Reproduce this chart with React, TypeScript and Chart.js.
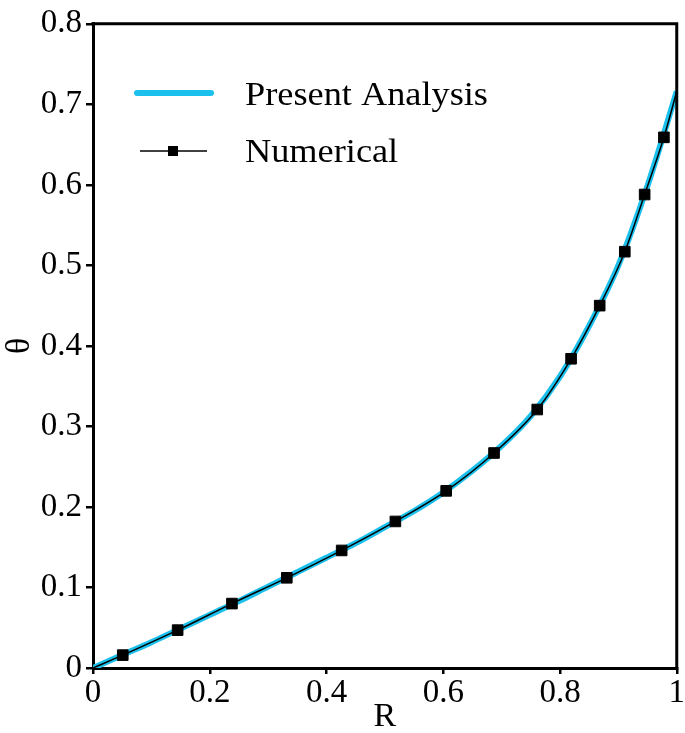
import React, { useEffect, useRef } from "react";
import { Chart, registerables } from "chart.js";

Chart.register(...registerables);

// Present Analysis curve
const curveR = [0, 0.05, 0.1, 0.15, 0.2, 0.25, 0.3, 0.35, 0.4, 0.45, 0.5, 0.55, 0.6, 0.65, 0.7, 0.75, 0.8, 0.85, 0.9, 0.95, 1.0];
const curveTheta = [0, 0.016, 0.032, 0.049, 0.066, 0.083, 0.101, 0.119, 0.137, 0.155, 0.175, 0.195, 0.218, 0.245, 0.276, 0.313, 0.362, 0.425, 0.5, 0.599, 0.716];

// Numerical markers
const numR = [0.051, 0.145, 0.238, 0.332, 0.426, 0.518, 0.605, 0.687, 0.761, 0.819, 0.868, 0.911, 0.945, 0.978];
const numTheta = [0.016, 0.047, 0.08, 0.112, 0.146, 0.182, 0.22, 0.267, 0.321, 0.384, 0.45, 0.517, 0.588, 0.659];

const legendLabels = ["Present Analysis", "Numerical"];
const xTitle = "R";
const yTitle = "θ";

const FONT = '"Liberation Serif", "Times New Roman", serif';
const CYAN = "#1cc0ec";

const framePlugin = {
  id: "frameAndLegend",
  afterDraw(chart: any) {
    const { ctx, chartArea } = chart;
    ctx.save();
    ctx.strokeStyle = "#000";
    ctx.lineWidth = 3;
    ctx.beginPath();
    ctx.moveTo(chartArea.left - 1.5, chartArea.top);
    ctx.lineTo(chartArea.right, chartArea.top);
    ctx.lineTo(chartArea.right, chartArea.bottom + 1.5);
    ctx.stroke();

    // legend
    ctx.lineCap = "round";
    ctx.strokeStyle = CYAN;
    ctx.lineWidth = 6;
    ctx.beginPath();
    ctx.moveTo(137, 93);
    ctx.lineTo(211, 93);
    ctx.stroke();

    ctx.lineCap = "butt";
    ctx.strokeStyle = "#000";
    ctx.lineWidth = 1.5;
    ctx.beginPath();
    ctx.moveTo(140, 151);
    ctx.lineTo(207, 151);
    ctx.stroke();
    ctx.fillStyle = "#000";
    ctx.fillRect(168, 146, 10, 10);

    ctx.font = `33px ${FONT}`;
    ctx.textBaseline = "alphabetic";
    ctx.textAlign = "left";
    ctx.save();
    ctx.translate(245, 105);
    ctx.scale(1.1, 1);
    ctx.fillText(legendLabels[0], 0, 0);
    ctx.restore();
    ctx.save();
    ctx.translate(245, 162);
    ctx.scale(1.1, 1);
    ctx.fillText(legendLabels[1], 0, 0);
    ctx.restore();
    ctx.restore();
  },
};

export default function App() {
  const ref = useRef<HTMLCanvasElement>(null);
  useEffect(() => {
    if (!ref.current) return;
    const curve = curveR.map((x, i) => ({ x, y: curveTheta[i] }));
    const nums = [{ x: 0, y: 0 }, ...numR.map((x, i) => ({ x, y: numTheta[i] })), { x: 1, y: curveTheta[curveTheta.length - 1] }];
    const radii = nums.map((_, i) => (i === 0 || i === nums.length - 1 ? 0 : 7.5));
    const chart = new Chart(ref.current, {
      type: "scatter",
      data: {
        datasets: [
          {
            label: legendLabels[1],
            data: nums,
            showLine: true,
            borderColor: "#000",
            borderWidth: 1.5,
            backgroundColor: "#000",
            pointStyle: "rect",
            pointRadius: radii,
            pointBorderWidth: 1,
            pointBorderColor: "#000",
            cubicInterpolationMode: "monotone",
            order: 0,
          },
          {
            label: legendLabels[0],
            data: curve,
            showLine: true,
            borderColor: CYAN,
            borderWidth: 6,
            pointRadius: 0,
            cubicInterpolationMode: "monotone",
            order: 1,
          },
        ],
      },
      options: {
        animation: false,
        responsive: true,
        maintainAspectRatio: false,
        layout: { padding: { top: 21, right: 7, left: 0, bottom: 0 } },
        plugins: { legend: { display: false }, tooltip: { enabled: false } },
        scales: {
          x: {
            type: "linear",
            min: 0,
            max: 1,
            ticks: {
              stepSize: 0.2,
              color: "#000",
              font: { family: FONT, size: 33 },
              padding: 0,
              maxRotation: 0,
              callback: (v: any) => (v === 0 ? "0" : v === 1 ? "1" : Number(v).toFixed(1)),
            },
            grid: { display: true, drawOnChartArea: false, tickLength: 6, color: "#000", lineWidth: 2.5 },
            border: { display: true, color: "#000", width: 3 },
            title: { display: true, text: xTitle, color: "#000", font: { family: FONT, size: 34 }, padding: { top: 0, bottom: -4 } },
            afterFit: (s: any) => { s.height = 65; },
          },
          y: {
            type: "linear",
            min: 0,
            max: 0.8,
            ticks: {
              stepSize: 0.1,
              color: "#000",
              font: { family: FONT, size: 33 },
              padding: 4,
              callback: (v: any) => (v === 0 ? "0" : Number(v).toFixed(1)),
            },
            grid: { display: true, drawOnChartArea: false, tickLength: 7, color: "#000", lineWidth: 2.5 },
            border: { display: true, color: "#000", width: 3 },
            title: { display: true, text: yTitle, color: "#000", font: { family: FONT, size: 34 }, padding: { top: 0, bottom: 0 } },
            afterFit: (s: any) => { s.width = 93; },
          },
        },
      },
      plugins: [framePlugin],
    });
    return () => chart.destroy();
  }, []);
  return (
    <div style={{ position: "absolute", left: 0, top: 0, width: 685, height: 733, background: "#fff" }}>
      <canvas ref={ref} />
    </div>
  );
}
